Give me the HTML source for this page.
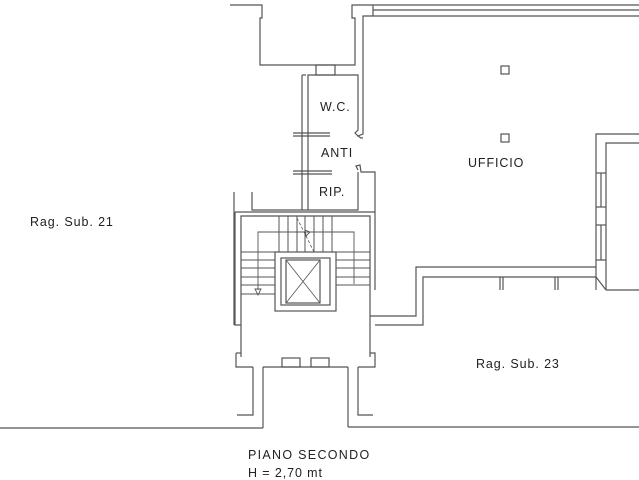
<!DOCTYPE html>
<html><head><style>body{margin:0;background:#fff}svg{display:block}text{font-family:"Liberation Sans",sans-serif;font-size:12.5px;fill:#222;letter-spacing:0.9px}</style></head><body>
<svg width="639" height="480" viewBox="0 0 639 480" fill="none" stroke="#555" stroke-width="1.2">
<!-- top -->
<polyline points="230,5 262,5 262,18 260,18 260,65 355,65 355,18 352,18 352,5 373,5"/>
<line x1="373" y1="5" x2="639" y2="5"/>
<line x1="373" y1="10" x2="639" y2="10"/>
<line x1="373" y1="16" x2="639" y2="16"/>
<line x1="373" y1="5" x2="373" y2="16"/>
<polyline points="373,16 363,16 363,134 358,136 361,138 363,138"/>
<rect x="316" y="65" width="19" height="10"/>
<!-- wc block -->
<polyline points="302,75 302,210"/>
<polyline points="302,75 306,75"/>
<polyline points="308,210 308,75 358,75 358,130 355,133 358,136"/>
<line x1="293" y1="133" x2="330" y2="133"/><line x1="293" y1="136" x2="330" y2="136"/>
<line x1="293" y1="171" x2="332" y2="171"/><line x1="293" y1="174" x2="332" y2="174"/>
<polyline points="358,170 356,166 360,165 361,172 375,172 375,290"/>
<polyline points="252,192 252,210 358,210 358,172"/>
<line x1="234" y1="192" x2="234" y2="325"/>
<!-- stairs -->
<line x1="235" y1="212" x2="375" y2="212"/>
<polyline points="241,357 241,216 370,216 370,357"/>
<g stroke-width="1">
<line x1="279" y1="216" x2="279" y2="252"/><line x1="288" y1="216" x2="288" y2="252"/><line x1="297" y1="216" x2="297" y2="252"/><line x1="305" y1="216" x2="305" y2="252"/><line x1="314" y1="216" x2="314" y2="252"/><line x1="323" y1="216" x2="323" y2="252"/><line x1="332" y1="216" x2="332" y2="252"/>
<line x1="241" y1="252" x2="370" y2="252"/>
<line x1="241" y1="260" x2="275" y2="260"/><line x1="241" y1="268" x2="275" y2="268"/><line x1="241" y1="277" x2="275" y2="277"/><line x1="241" y1="285" x2="275" y2="285"/><line x1="241" y1="294" x2="275" y2="294"/>
<line x1="336" y1="260" x2="370" y2="260"/><line x1="336" y1="268" x2="370" y2="268"/><line x1="336" y1="277" x2="370" y2="277"/><line x1="336" y1="285" x2="370" y2="285"/>
</g>
<rect x="275" y="252" width="61" height="59" fill="#fff"/>
<rect x="281" y="258" width="49" height="47"/>
<rect x="286" y="260" width="34" height="43"/>
<line x1="286" y1="260" x2="320" y2="303" stroke-width="0.8"/><line x1="320" y1="260" x2="286" y2="303" stroke-width="0.8"/>
<polyline points="258,290 258,232 354,232 354,284" stroke-width="0.9"/>
<polygon points="255,289 261,289 258,295" stroke-width="0.9"/>
<line x1="297" y1="218" x2="314" y2="252" stroke-dasharray="3,2" stroke-width="0.8"/>
<polygon points="305,230 310,232 306,236" stroke-width="0.9"/>
<!-- bottom of stairs -->
<polyline points="235,212 235,325 241,325"/>
<polyline points="236,353 241,353"/>
<polyline points="370,353 375,353 375,367 358,367"/>
<polyline points="236,353 236,367 253,367"/>
<line x1="263" y1="367" x2="348" y2="367"/>
<rect x="282" y="358" width="18" height="9"/><rect x="311" y="358" width="18" height="9"/>
<polyline points="253,367 253,415 237,415"/><polyline points="263,367 263,428"/>
<polyline points="348,367 348,427"/><polyline points="358,367 358,415 373,415"/>
<!-- corridor -->
<polyline points="370,316 416,316 416,267 596,267 596,134 639,134"/>
<polyline points="375,325 423,325 423,277 596,277"/>
<polyline points="606,290 606,143 639,143"/>
<line x1="606" y1="290" x2="639" y2="290"/>
<line x1="596" y1="267" x2="596" y2="277"/><line x1="596" y1="277" x2="606" y2="290"/>
<line x1="500" y1="277" x2="500" y2="290"/><line x1="503" y1="277" x2="503" y2="290"/>
<line x1="555" y1="277" x2="555" y2="290"/><line x1="558" y1="277" x2="558" y2="290"/>
<line x1="596" y1="277" x2="596" y2="290"/>
<line x1="596" y1="173" x2="606" y2="173"/><line x1="596" y1="207" x2="606" y2="207"/><line x1="596" y1="225" x2="606" y2="225"/><line x1="596" y1="260" x2="606" y2="260"/>
<line x1="601" y1="173" x2="601" y2="207"/><line x1="601" y1="225" x2="601" y2="260"/>
<rect x="501" y="66" width="8" height="8"/><rect x="501" y="134" width="8" height="8"/>
<!-- bottom -->
<line x1="0" y1="428" x2="263" y2="428"/>
<line x1="348" y1="427" x2="639" y2="427"/>
<text x="30" y="226" stroke="none">Rag. Sub. 21</text>
<text x="476" y="368" stroke="none">Rag. Sub. 23</text>
<text x="468" y="167" stroke="none">UFFICIO</text>
<text x="320" y="111" stroke="none">W.C.</text>
<text x="321" y="157" stroke="none">ANTI</text>
<text x="319" y="196" stroke="none">RIP.</text>
<text x="248" y="459" stroke="none" style="letter-spacing:1.3px">PIANO SECONDO</text>
<text x="248" y="477" stroke="none">H = 2,70 mt</text>
</svg>
</body></html>
